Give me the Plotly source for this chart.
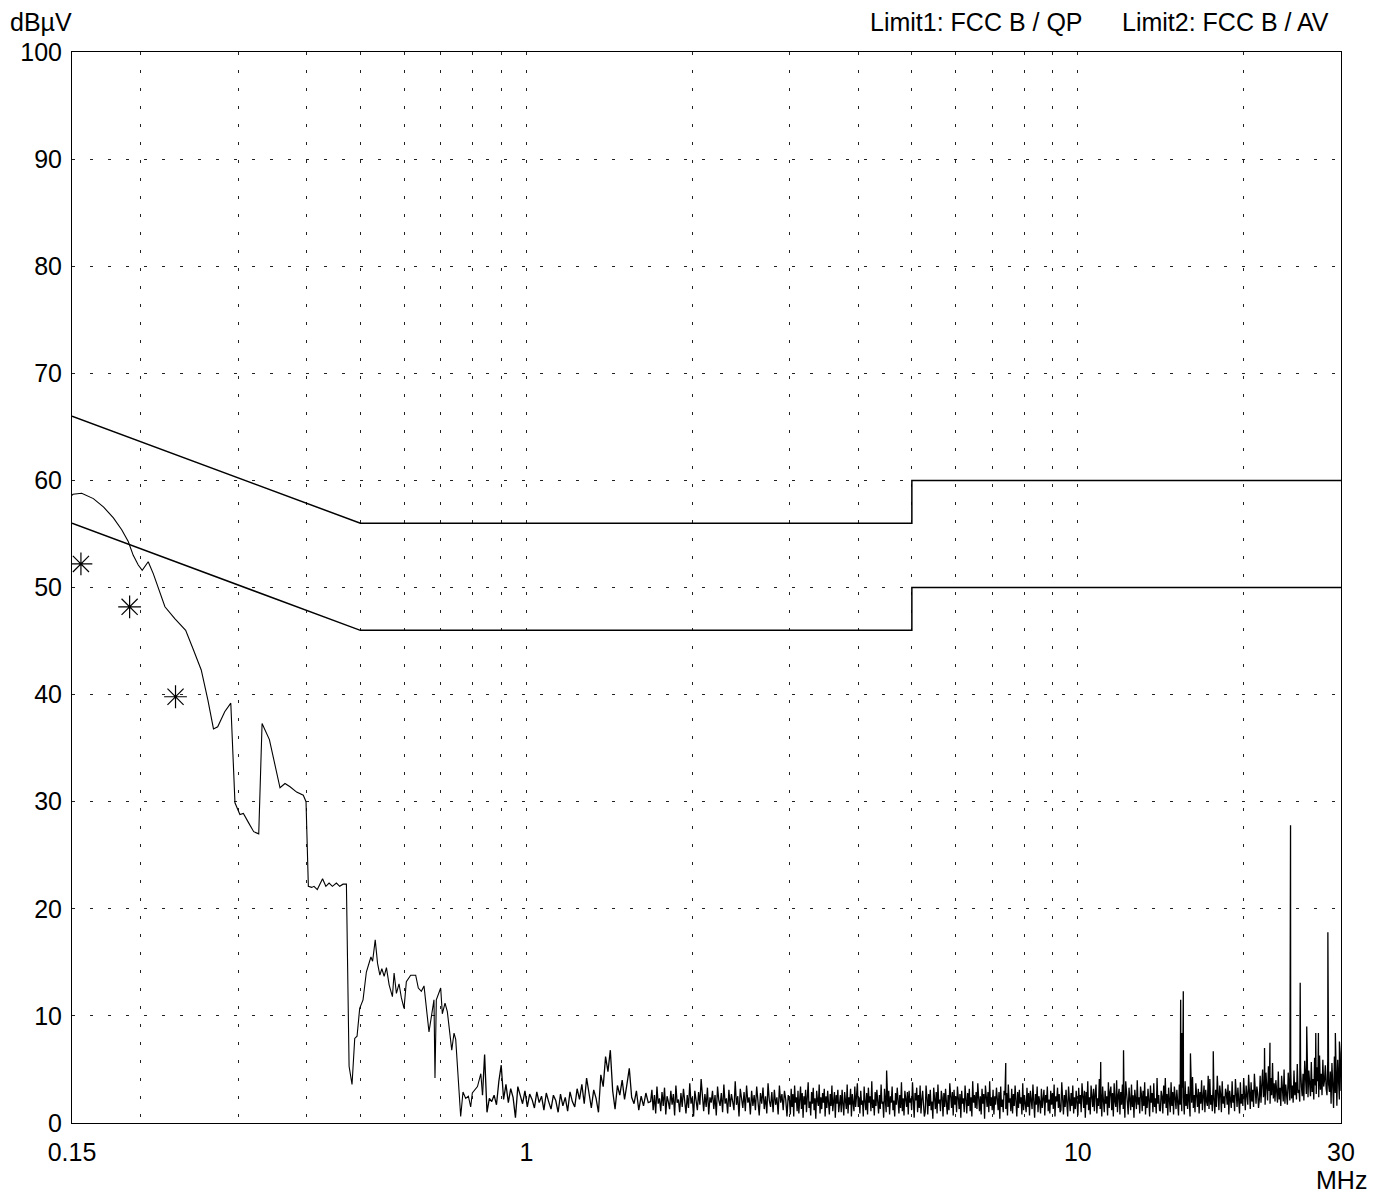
import numpy as np
import plotly.graph_objects as go

# ---------------- data ----------------
# Low-frequency part of the measured (peak) trace, read point by point
low_f = [0.1500, 0.1506, 0.1562, 0.1640, 0.1712, 0.1783, 0.1846, 0.1897, 0.1937, 0.1978,
         0.2011, 0.2062, 0.2106, 0.2157, 0.2211, 0.2304, 0.2411, 0.2485, 0.2573, 0.2645,
         0.2708, 0.2756, 0.2838, 0.2911, 0.2962, 0.3024, 0.3068, 0.3138, 0.3203, 0.3271,
         0.3317, 0.3420, 0.3508, 0.3575, 0.3650, 0.3728, 0.3832, 0.3940, 0.3985, 0.4024,
         0.4080, 0.4120, 0.4177, 0.4270, 0.4329, 0.4388, 0.4449, 0.4524, 0.4587, 0.4651,
         0.4717, 0.4770, 0.4829, 0.4884, 0.4931, 0.4986, 0.5056, 0.5127, 0.5225, 0.5262,
         0.5320, 0.5372, 0.5424, 0.5469, 0.5522, 0.5575, 0.5638, 0.5716, 0.5756, 0.5812,
         0.5876, 0.5933, 0.6000, 0.6058, 0.6169, 0.6299, 0.6369, 0.6450, 0.6522, 0.6659,
         0.6799, 0.6828, 0.6866, 0.6992, 0.7040, 0.7120, 0.7189, 0.7323, 0.7393, 0.7445,
         0.7601, 0.7675, 0.7761, 0.7849, 0.7925, 0.7980, 0.8153, 0.8268, 0.8326]
low_db = [58.6, 58.7, 58.8, 58.3, 57.5, 56.5, 55.4, 54.3, 53.0, 52.1,
          51.6, 52.4, 51.3, 49.8, 48.2, 47.1, 46.0, 44.3, 42.3, 39.5,
          36.8, 37.0, 38.4, 39.2, 29.9, 28.8, 28.9, 28.0, 27.2, 27.0,
          37.3, 35.8, 33.3, 31.3, 31.7, 31.4, 30.9, 30.6, 30.0, 22.1,
          22.0, 22.1, 21.8, 22.8, 22.1, 22.4, 22.1, 22.4, 22.1, 22.3,
          22.3, 5.3, 3.6, 7.9, 8.1, 10.7, 11.5, 14.1, 15.5, 15.1,
          17.1, 14.9, 13.8, 14.4, 13.7, 14.5, 12.9, 11.8, 14.0, 12.1,
          13.0, 11.7, 10.7, 13.2, 13.8, 13.8, 12.6, 12.3, 12.8, 8.5,
          11.5, 4.2, 11.5, 12.6, 10.2, 11.2, 10.4, 6.8, 8.4, 7.8,
          0.6, 2.9, 2.3, 2.5, 1.5, 2.8, 3.4, 4.6, 2.6]

# Noise floor, sweep 0.84 - 1.68 MHz (read values)
noise_a_start, noise_a_stop = 0.84, 1.68
noise_a_db = [6.4, 1.0, 2.3, 2.0, 2.6, 1.7, 3.9, 5.4, 2.2, 3.6,
              1.9, 3.2, 2.4, 0.5, 3.4, 2.6, 1.8, 3.0, 1.5, 2.7,
              2.2, 1.4, 2.9, 1.9, 2.5, 1.2, 2.8, 2.0, 1.3, 2.6,
              2.1, 1.0, 2.7, 1.6, 2.4, 1.1, 2.9, 2.0, 1.5, 3.2,
              2.2, 3.6, 1.8, 4.2, 2.6, 1.4, 3.1, 2.3, 1.0, 4.5,
              3.4, 6.2, 4.8, 6.8, 3.0, 1.3, 3.5, 2.6, 4.0, 2.2,
              3.6, 5.1, 2.4, 1.8, 3.0, 1.2, 2.5, 1.6, 2.8, 1.9]

# Noise floor, sweep 1.68 - 3 MHz (read values)
noise_a2_start, noise_a2_stop = 1.68, 3.0
noise_a2_db = [2.0, 3.1, 1.2, 2.6, 0.9, 3.4, 1.8, 2.3, 1.1, 2.9,
               1.6, 3.3, 0.8, 2.5, 2.0, 1.3, 3.0, 1.7, 2.7, 0.7,
               3.5, 1.9, 2.2, 1.0, 2.8, 1.5, 3.2, 2.1, 0.9, 2.6,
               1.4, 3.7, 1.8, 2.4, 0.6, 3.0, 2.2, 1.2, 2.9, 1.7,
               4.1, 2.0, 1.1, 2.7, 1.5, 3.3, 0.8, 2.4, 1.9, 3.0,
               1.3, 2.6, 0.7, 3.4, 2.1, 1.6, 2.8, 1.0, 3.6, 1.8,
               2.3, 0.9, 3.1, 1.5, 2.7, 2.0, 1.2, 3.9, 1.7, 2.5,
               0.6, 3.2, 2.2, 1.4, 2.9, 1.1, 3.5, 1.9, 2.4, 0.8,
               3.0, 1.6, 2.6, 1.2, 3.4, 2.0, 0.7, 2.8, 1.8, 3.3,
               1.3, 2.5, 0.9, 3.7, 2.1, 1.5, 2.9, 1.0, 3.1, 1.7,
               2.4, 0.8, 3.5, 1.9, 2.7, 1.2, 3.0, 2.2, 0.6, 2.6]

# Noise floor, sweep 3 - 10 MHz (read values)
noise_b_start, noise_b_stop = 3.0, 10.0
noise_b_db = [
    2.1, 0.8, 3.2, 1.5, 2.7, 0.6, 3.5, 1.9, 2.4, 1.1, 3.0, 0.9, 2.2, 3.4, 1.3, 2.8, 0.5, 2.5, 1.7, 3.1,
    1.0, 2.6, 3.8, 1.4, 2.0, 0.7, 2.9, 1.8, 3.3, 1.2, 2.3, 0.4, 3.0, 2.1, 1.6, 3.6, 0.9, 2.4, 1.3, 2.8,
    1.9, 3.2, 0.6, 2.5, 1.4, 3.0, 2.2, 0.8, 2.7, 1.6, 3.5, 1.1, 2.0, 2.9, 0.5, 2.6, 1.8, 3.1, 1.0, 2.3,
    2.6, 1.0, 3.1, 1.8, 0.7, 2.9, 2.2, 1.3, 3.6, 0.9, 2.4, 1.7, 3.2, 0.6, 2.7, 2.0, 1.1, 3.4, 1.5, 2.5,
    3.7, 1.5, 2.4, 0.9, 3.0, 1.7, 2.1, 0.6, 3.4, 2.0, 1.2, 2.8, 0.8, 3.3, 1.9, 2.5, 1.1, 3.9, 1.4, 2.2,
    0.7, 2.9, 1.6, 3.1, 2.3, 0.9, 2.6, 1.3, 3.6, 1.8, 2.0, 0.5, 3.2, 2.4, 1.0, 2.7, 1.5, 3.0, 0.8, 2.5,
    1.9, 3.4, 1.2, 2.1, 0.6, 2.8, 1.7, 3.3, 2.2, 0.9, 2.6, 1.4, 3.8, 1.1, 2.3, 0.7, 3.0, 2.0, 1.5, 2.9,
    0.8, 3.0, 1.9, 2.3, 1.2, 3.8, 1.6, 0.5, 2.8, 2.1, 3.3, 1.0, 2.6, 1.4, 3.5, 0.9, 2.2, 3.0, 1.7, 0.6,
    1.0, 3.5, 2.4, 0.8, 2.7, 1.6, 3.1, 1.2, 2.0, 0.4, 3.3, 2.5, 1.3, 2.9, 0.9, 3.6, 1.8, 2.2, 1.1, 3.0,
    2.4, 0.6, 2.8, 1.5, 3.2, 1.9, 0.8, 2.6, 1.2, 3.7, 2.1, 1.4, 2.9, 0.7, 3.1, 1.7, 2.5, 1.0, 3.4, 2.0,
    1.3, 2.7, 0.5, 3.0, 1.8, 2.3, 1.0, 3.5, 2.2, 0.9, 2.8, 1.6, 3.2, 1.1, 2.4, 0.6, 3.9, 1.9, 2.6, 1.4,
    2.9, 1.3, 3.7, 2.0, 1.1, 2.5, 0.8, 3.2, 1.8, 2.7, 0.4, 3.5, 2.3, 1.5, 2.9, 1.0, 3.9, 1.6, 2.4, 1.2,
    3.1, 0.8, 2.5, 1.7, 3.3, 2.0, 1.2, 2.9, 0.4, 3.4, 1.5, 2.2, 1.0, 3.0, 2.6, 1.3, 2.8, 0.7, 3.6, 1.9,
    2.3, 1.1, 3.2, 0.9, 2.7, 1.6, 3.5, 2.1, 0.6, 2.9, 1.4, 3.1, 1.8, 2.4, 0.8, 3.7, 1.2, 2.6, 2.0, 1.0,
    3.3, 1.5, 2.8, 0.7, 3.0, 2.2, 1.3, 3.6, 1.9, 0.5, 2.7, 1.7, 3.4, 1.0, 2.5, 2.0, 0.9, 3.2, 1.4, 2.9,
    3.1, 0.7, 2.6, 1.9, 3.4, 1.1, 2.2, 0.9, 3.0, 1.7, 2.8, 1.3, 3.6, 0.6, 2.5, 2.0, 3.3, 1.4, 2.7, 1.0,
    1.2, 3.8, 2.1, 0.8, 2.6, 1.5, 3.1, 1.9, 0.6, 3.4, 2.3, 1.1, 2.8, 1.6, 3.5, 0.9, 2.4, 1.3, 3.0, 2.0]

# Noise floor, sweep 10 - 30 MHz (read values)
noise_c_start, noise_c_stop = 10.0, 30.0
noise_c_db = [
    0.7, 3.3, 1.8, 2.6, 1.0, 3.7, 2.2, 1.4, 3.0, 0.5, 2.9, 1.7, 3.9, 1.2, 2.4, 0.8, 3.5, 2.0, 1.5, 3.2,
    1.1, 2.7, 3.6, 0.9, 2.3, 1.6, 4.1, 1.3, 2.8, 0.6, 3.4, 2.1, 1.0, 3.0, 1.8, 2.5, 0.7, 3.8, 1.4, 2.9,
    3.4, 1.2, 2.8, 0.6, 3.7, 2.0, 1.5, 4.0, 1.0, 2.6, 3.2, 0.8, 2.9, 1.7, 3.6, 1.3, 2.4, 0.5, 3.9, 2.1,
    1.9, 0.8, 3.3, 2.2, 1.2, 3.6, 1.5, 2.6, 0.5, 3.1, 2.0, 1.3, 4.0, 1.7, 2.4, 0.9, 3.4, 2.7, 1.1, 3.0,
    1.6, 3.8, 0.8, 2.5, 1.4, 3.2, 2.1, 0.6, 3.5, 1.9, 2.8, 1.0, 3.7, 1.5, 2.3, 0.9, 4.2, 1.8, 2.6, 1.2,
    1.1, 3.0, 2.5, 0.9, 3.5, 1.8, 4.2, 1.4, 2.7, 0.7, 3.3, 2.2, 1.0, 3.8, 1.6, 2.9, 0.8, 3.4, 2.0, 1.3,
    3.1, 2.0, 0.7, 3.6, 1.7, 2.9, 1.1, 3.3, 2.4, 0.8, 3.9, 1.6, 2.7, 1.3, 3.4, 2.1, 0.6, 3.0, 1.9, 4.3,
    1.4, 2.6, 1.0, 3.7, 2.2, 1.5, 3.2, 0.9, 2.9, 1.8, 4.0, 1.2, 2.5, 3.5, 1.0, 3.1, 2.0, 1.6, 4.4, 1.3,
    4.1, 1.7, 2.6, 1.1, 3.6, 2.3, 0.9, 3.1, 1.5, 4.4, 2.0, 1.2, 3.5, 2.7, 1.0, 3.9, 1.8, 2.5, 1.4, 3.2,
    2.8, 1.7, 3.6, 0.8, 3.0, 2.3, 1.4, 3.9, 1.9, 2.6, 1.1, 4.1, 2.2, 1.5, 3.3, 2.0, 0.9, 3.8, 1.8, 2.7,
    1.6, 4.2, 2.4, 1.2, 3.5, 2.1, 1.7, 4.5, 2.6, 1.3, 3.8, 2.0, 3.1, 1.5, 4.6, 2.3, 1.8, 3.4, 2.8, 1.4,
    2.2, 4.4, 1.9, 3.6, 5.0, 2.4, 3.1, 1.7, 4.7, 2.8, 2.1, 5.3, 3.0, 1.8, 4.2, 2.6, 5.6, 2.3, 3.7, 2.0,
    4.0, 2.5, 1.9, 4.8, 2.2, 3.3, 1.6, 4.4, 2.7, 2.0, 5.0, 1.8, 3.6, 2.4, 1.7, 4.7, 2.9, 2.1, 5.2, 2.3,
    3.5, 1.9, 4.9, 2.6, 3.8, 2.2, 5.5, 2.8, 3.1, 2.0, 5.1, 3.4, 2.5, 4.6, 2.1, 5.8, 3.0, 2.7, 4.3, 2.4,
    4.9, 3.3, 2.5, 5.7, 2.9, 4.1, 2.2, 6.1, 3.5, 2.7, 5.2, 3.9, 2.4, 6.3, 3.1, 4.6, 2.6, 5.9, 3.4, 4.0,
    5.4, 3.2, 2.6, 6.0, 3.6, 2.9, 4.8, 1.8, 5.6, 3.3, 1.4, 6.2, 2.8, 4.5, 1.6, 5.9, 3.7, 2.2, 6.5, 3.0]

# Narrow-band spikes on top of the noise floor
spike_f = [4.5, 7.4, 11.0, 12.1, 15.36, 15.45, 15.53, 16.0, 17.6, 21.8,
           22.3, 24.3, 25.3, 26.0, 27.0, 27.3, 28.4, 29.3, 29.8]
spike_db = [4.9, 5.6, 5.7, 6.8, 11.5, 8.4, 12.3, 6.5, 6.7, 7.0,
            7.5, 27.8, 13.1, 9.0, 8.4, 8.4, 17.8, 8.4, 7.6]

# Quasi-peak final measurements (asterisks)
qp_f = [0.1557, 0.1908, 0.2311]
qp_db = [52.2, 48.2, 39.8]

# Limits
limit1_f = [0.15, 0.5, 5.0, 5.0, 30.0]
limit1_db = [66, 56, 56, 60, 60]
limit2_f = [0.15, 0.5, 5.0, 5.0, 30.0]
limit2_db = [56, 46, 46, 50, 50]

# Axis ticks
x_tickvals = [0.15, 1, 10, 30]
x_ticktext = ["0.15", "1", "10", "30"]
x_minor_vals = [0.2, 0.3, 0.4, 0.5, 0.6, 0.7, 0.8, 0.9, 2, 3, 4, 5, 6, 7, 8, 9, 20]
y_tickvals = [0, 10, 20, 30, 40, 50, 60, 70, 80, 90, 100]

# ---------------- build traces ----------------
fa = np.geomspace(noise_a_start, noise_a_stop, len(noise_a_db), endpoint=False)
fa2 = np.geomspace(noise_a2_start, noise_a2_stop, len(noise_a2_db), endpoint=False)
fb = np.geomspace(noise_b_start, noise_b_stop, len(noise_b_db), endpoint=False)
fc = np.geomspace(noise_c_start, noise_c_stop, len(noise_c_db))
nf = np.concatenate([[low_f[-1]], fa, fa2, fb, fc, spike_f])
nd = np.concatenate([[low_db[-1]], noise_a_db, noise_a2_db, noise_b_db, noise_c_db, spike_db])
order = np.argsort(nf, kind="stable")

FONT = "Arial, Liberation Sans, sans-serif"
FS = 25
fig = go.Figure()

fig.add_trace(go.Scatter(x=limit1_f, y=limit1_db, mode="lines",
                         line=dict(color="black", width=1.5), hoverinfo="skip"))
fig.add_trace(go.Scatter(x=limit2_f, y=limit2_db, mode="lines",
                         line=dict(color="black", width=1.5), hoverinfo="skip"))
fig.add_trace(go.Scatter(x=low_f, y=low_db, mode="lines",
                         line=dict(color="black", width=1.1)))
fig.add_trace(go.Scatter(x=nf[order], y=nd[order], mode="lines",
                         line=dict(color="black", width=1.3)))
fig.add_trace(go.Scatter(x=qp_f, y=qp_db, mode="markers",
                         marker=dict(symbol="asterisk-open", size=19, color="black",
                                     line=dict(color="black", width=1.2))))

grid_style = dict(gridcolor="#222", gridwidth=1, griddash="3px,15px")

fig.update_xaxes(type="log", range=[np.log10(0.15), np.log10(30)],
                 tickmode="array", tickvals=x_tickvals, ticktext=x_ticktext,
                 showgrid=True, **grid_style,
                 minor=dict(tickmode="array", tickvals=x_minor_vals, showgrid=True, **grid_style),
                 showline=True, linecolor="black", linewidth=1, mirror=True,
                 ticks="", ticklabelstandoff=7, zeroline=False, automargin=False,
                 tickfont=dict(family=FONT, size=FS, color="black"))
fig.update_yaxes(range=[0, 100], tickmode="array", tickvals=y_tickvals,
                 showgrid=True, **grid_style,
                 showline=True, linecolor="black", linewidth=1, mirror=True,
                 ticks="", ticklabelstandoff=4, zeroline=False, automargin=False,
                 tickfont=dict(family=FONT, size=FS, color="black"))

# the page body has an 8px margin, so the figure is sized/offset to compensate
fig.update_layout(
    width=1378, height=1186,
    margin=dict(l=64, r=45, t=44, b=71),
    paper_bgcolor="white", plot_bgcolor="white",
    showlegend=False,
    font=dict(family=FONT, size=FS, color="black"),
    annotations=[
        dict(text="dBµV", xref="paper", yref="paper", x=-0.0504, y=1, xanchor="left",
             yanchor="middle", yshift=30, showarrow=False, font=dict(size=FS)),
        dict(text="Limit1: FCC B / QP", xref="paper", yref="paper", x=0.6273, y=1,
             xanchor="left", yanchor="middle", yshift=30, showarrow=False, font=dict(size=FS)),
        dict(text="Limit2: FCC B / AV", xref="paper", yref="paper", x=0.8258, y=1,
             xanchor="left", yanchor="middle", yshift=30, showarrow=False, font=dict(size=FS)),
        dict(text="MHz", xref="paper", yref="paper", x=1, y=0, xanchor="center",
             yanchor="middle", yshift=-57, showarrow=False, font=dict(size=FS)),
    ],
)

fig.write_html("out.html")
